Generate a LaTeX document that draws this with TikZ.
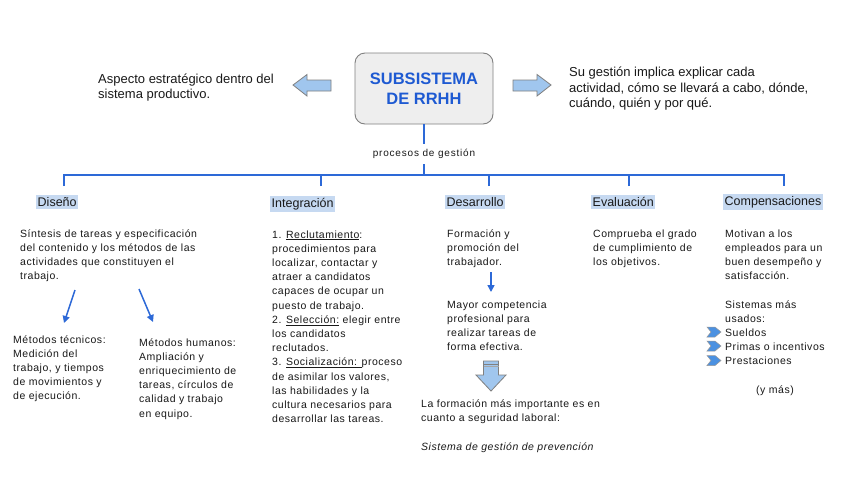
\documentclass[tikz,border=0pt]{standalone}
\usepackage{fontspec}
\setmainfont{Liberation Sans}
\newfontfamily\spc[LetterSpace=5]{Liberation Sans}
\newfontfamily\spcb[LetterSpace=8]{Liberation Sans}
\usetikzlibrary{arrows.meta}
\definecolor{lineblue}{RGB}{45,105,215}
\definecolor{titleblue}{RGB}{30,90,210}
\definecolor{hl}{RGB}{198,217,241}
\definecolor{afill}{RGB}{160,198,238}
\definecolor{chfill}{RGB}{75,145,225}
\definecolor{aline}{RGB}{128,128,128}
\definecolor{boxfill}{RGB}{238,238,238}
\definecolor{txtc}{RGB}{25,25,25}
\begin{document}
\begin{tikzpicture}[x=1pt,y=-1pt,
  txt/.style={inner sep=0,anchor=base west,align=left,text=txtc,font=\spc\fontsize{10.5}{14.2}\selectfont},
  toptxt/.style={inner sep=0,anchor=base west,align=left,text=txtc,font=\fontsize{13}{15.5}\selectfont},
  cat/.style={fill=hl,inner xsep=1.5pt,inner ysep=2pt,anchor=west,text=txtc,font=\fontsize{12.5}{14}\selectfont},
  conn/.style={draw=lineblue,line width=1.3pt},
  sarrow/.style={draw=lineblue,line width=1.5pt,-{Triangle[length=7pt,width=7pt]}},
  blockarrow/.style={draw=aline,fill=afill,line width=0.8pt,line join=miter},
  chev/.style={draw=aline!80,fill=chfill,line width=0.5pt}
]
\useasboundingbox (0,0) rectangle (848,477);
\fill[white] (0,0) rectangle (848,477);

% main box
\node[draw=aline,fill=boxfill,rounded corners=10pt,line width=0.9pt,minimum width=138pt,minimum height=71pt,inner sep=0,align=center,text=titleblue,font=\fontsize{16.5}{20.5}\selectfont\bfseries] (main) at (424,88.5) {SUBSISTEMA\\DE RRHH};

% side texts (base = last line)
\node[toptxt] (left) at (98,98.5) {Aspecto estratégico dentro del\\sistema productivo.};
\node[toptxt] (right) at (569,107.5) {Su gestión implica explicar cada\\actividad, cómo se llevará a cabo, dónde,\\cuándo, quién y por qué.};

% block arrows
\draw[blockarrow] (293,85) -- (307,74.5) -- (307,80) -- (331,80) -- (331,91) -- (307,91) -- (307,96) -- cycle;
\draw[blockarrow] (551,85) -- (537,74.5) -- (537,80) -- (513,80) -- (513,91) -- (537,91) -- (537,96) -- cycle;

% procesos de gestion
\node[inner sep=0,text=txtc,font=\spcb\fontsize{10}{11}\selectfont,minimum height=20pt] (proc) at (424,154) {procesos de gestión};
\coordinate (busc) at (424,175);
\draw[conn] (main.south) -- (proc.north);
\draw[conn] (proc.south) -- (busc);

% bus and drops
\coordinate (d1) at (64,186);
\coordinate (d2) at (321,186);
\coordinate (d3) at (489,186);
\coordinate (d4) at (629,186);
\coordinate (d5) at (784,186);
\draw[conn,line join=miter] (d1) |- (busc) -| (d5);
\draw[conn] (d2) -- (d2 |- busc);
\draw[conn] (d3) -- (d3 |- busc);
\draw[conn] (d4) -- (d4 |- busc);

% categories
\node[cat] (dis) at (36,202) {Diseño};
\node[cat] (int) at (270,204) {Integración};
\node[cat] (des) at (445,202) {Desarrollo};
\node[cat] (eva) at (591,202) {Evaluación};
\node[cat] (com) at (723,202) {Compensaciones};

% Diseño
\node[txt] (distxt) at (20,279.6) {Síntesis de tareas y especificación\\del contenido y los métodos de las\\actividades que constituyen el\\trabajo.};
\coordinate (a1s) at (75,290);
\coordinate (a1e) at (64,323);
\coordinate (a2s) at (139,289);
\coordinate (a2e) at (153,322);
\draw[sarrow] (a1s) -- (a1e);
\draw[sarrow] (a2s) -- (a2e);
\node[txt] (tec) at (13,399.8) {Métodos técnicos:\\Medición del\\trabajo, y tiempos\\de movimientos y\\de ejecución.};
\node[txt] (hum) at (139,417) {Métodos humanos:\\Ampliación y\\enriquecimiento de\\tareas, círculos de\\calidad y trabajo\\en equipo.};

% Integración
\node[txt] (inttxt) at (272,422.6) {1. \underline{Reclutamiento}:\\procedimientos para\\localizar, contactar y\\atraer a candidatos\\capaces de ocupar un\\puesto de trabajo.\\2. \underline{Selección:} elegir entre\\los candidatos\\reclutados.\\3. \underline{Socialización: }proceso\\de asimilar los valores,\\las habilidades y la\\cultura necesarios para\\desarrollar las tareas.};

% Desarrollo
\node[txt] (destxt) at (447,265.4) {Formación y\\promoción del\\trabajador.};
\coordinate (a3s) at (491,272);
\coordinate (a3e) at (491,292);
\draw[sarrow] (a3s) -- (a3e);
\node[txt] (mayor) at (447,350.6) {Mayor competencia\\profesional para\\realizar tareas de\\forma efectiva.};
\draw[blockarrow] (483.5,361) -- (498.5,361) -- (498.5,375) -- (506,375) -- (491,391) -- (476,375) -- (483.5,375) -- cycle;
\draw[aline,line width=0.9pt] (483.5,364) -- (498.5,364);
\draw[aline!70,line width=0.7pt] (483.5,366.5) -- (498.5,366.5);
\node[txt] (form) at (421,421.2) {La formación más importante es en\\cuanto a seguridad laboral:};
\node[txt,font=\spc\fontsize{10.5}{14}\selectfont\itshape] (sist) at (421,450) {Sistema de gestión de prevención};

% Evaluación
\node[txt] (evatxt) at (593,265.4) {Comprueba el grado\\de cumplimiento de\\los objetivos.};

% Compensaciones
\node[txt] (comtxt) at (725,279.6) {Motivan a los\\empleados para un\\buen desempeño y\\satisfacción.};
\node[txt] (sis) at (725,364.8) {Sistemas más\\usados:\\Sueldos\\Primas o incentivos\\Prestaciones};
\foreach \yy in {332,346,360.5}{
  \draw[chev] (707,\yy-5) -- (715,\yy-5) -- (721,\yy) -- (715,\yy+5) -- (707,\yy+5) -- (711,\yy) -- cycle;
}
\node[txt,anchor=base] (ymas) at (775,393) {(y más)};
\end{tikzpicture}
\end{document}
